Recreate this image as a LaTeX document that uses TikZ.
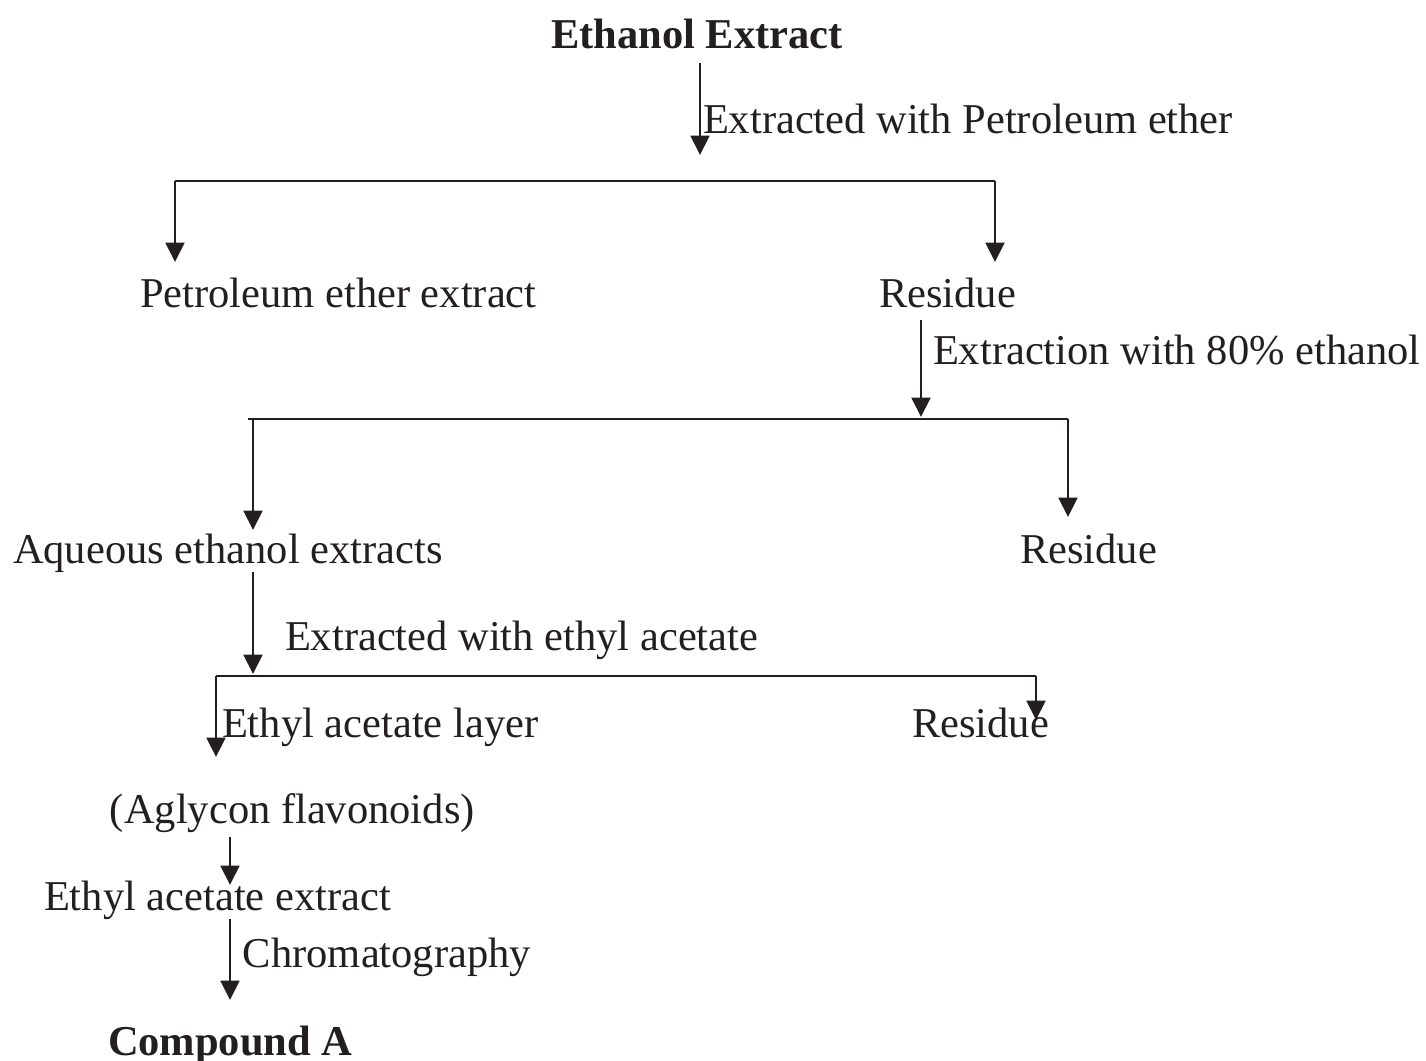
\documentclass[tikz,border=0pt]{standalone}
\usepackage{fontspec}
\setmainfont{Liberation Serif}
\usetikzlibrary{arrows.meta}
\definecolor{ink}{RGB}{35,31,32}
\newcommand{\fsz}{\fontsize{12.75}{15}\selectfont}
\begin{document}
\begin{tikzpicture}[x=0.3pt,y=-0.3pt,
  font=\fsz, text=ink,
  txt/.style={inner sep=0pt, outer sep=0pt, anchor=base west},
  bold/.style={font=\fsz\bfseries},
  arr/.style={draw=ink, -{Triangle[length=5.8pt,width=5.6pt]}, line width=0.8pt},
  ln/.style={draw=ink, line width=0.8pt}]
\useasboundingbox (0,0) rectangle (1426,1060);

% texts
\node[txt,bold] (eth) at (551,48) {Ethanol Extract};
\node[txt] (lab1) at (703,133) {Extracted with Petroleum ether};
\node[txt] (pe) at (140,307) {Petroleum ether extract};
\node[txt] (res1) at (879,307) {Residue};
\node[txt] (lab2) at (933,364) {Extraction with 80\% ethanol};
\node[txt] (aq) at (13,563) {Aqueous ethanol extracts};
\node[txt] (res2) at (1020,563) {Residue};
\node[txt] (lab3) at (285,650) {Extracted with ethyl acetate};
\node[txt] (eal) at (222,737) {Ethyl acetate layer};
\node[txt] (res3) at (912,737) {Residue};
\node[txt] (agly) at (110,823) {(Aglycon flavonoids)};
\node[txt] (eae) at (44,910) {Ethyl acetate extract};
\node[txt] (lab4) at (243,967) {Chromatography};
\node[txt,bold] (cpd) at (108,1055) {Compound A};

% coordinates
\coordinate (x1) at (700,63);
\coordinate (t1) at (700,155);
\coordinate (b1l) at (175,181);
\coordinate (b1r) at (995,181);
\coordinate (t1l) at (175,262);
\coordinate (t1r) at (995,262);
\coordinate (x2) at (921,320);
\coordinate (t2) at (921,417);
\coordinate (b2e) at (248,419);
\coordinate (b2l) at (253,419);
\coordinate (b2r) at (1068,419);
\coordinate (t2l) at (253,530);
\coordinate (t2r) at (1068,517);
\coordinate (x3) at (253,572);
\coordinate (t3) at (253,674);
\coordinate (b3l) at (216,676);
\coordinate (b3r) at (1036,676);
\coordinate (t3l) at (216,757);
\coordinate (t3r) at (1036,720);
\coordinate (x4) at (230,838);
\coordinate (t4) at (230,885);
\coordinate (x5) at (230,920);
\coordinate (t5) at (230,1000);

% connectors
\draw[arr] (eth.south -| x1) ++(0,15) -- (t1);
\draw[ln] (b1l) -- (b1r);
\draw[arr] (b1l) -- (t1l);
\draw[arr] (b1r) -- (t1r);
\draw[arr] (res1.south -| x2) ++(0,13) -- (t2);
\draw[ln] (b2e) -- (b2r);
\draw[arr] (b2l) -- (t2l);
\draw[arr] (b2r) -- (t2r);
\draw[arr] (aq.south -| x3) -- (t3);
\draw[ln] (b3l) -- (b3r);
\draw[arr] (b3l) -- (t3l);
\draw[arr] (b3r) -- (t3r);
\draw[arr] (agly.south -| x4) ++(0,5) -- (t4);
\draw[arr] (eae.south -| x5) -- (t5);
\end{tikzpicture}
\end{document}
